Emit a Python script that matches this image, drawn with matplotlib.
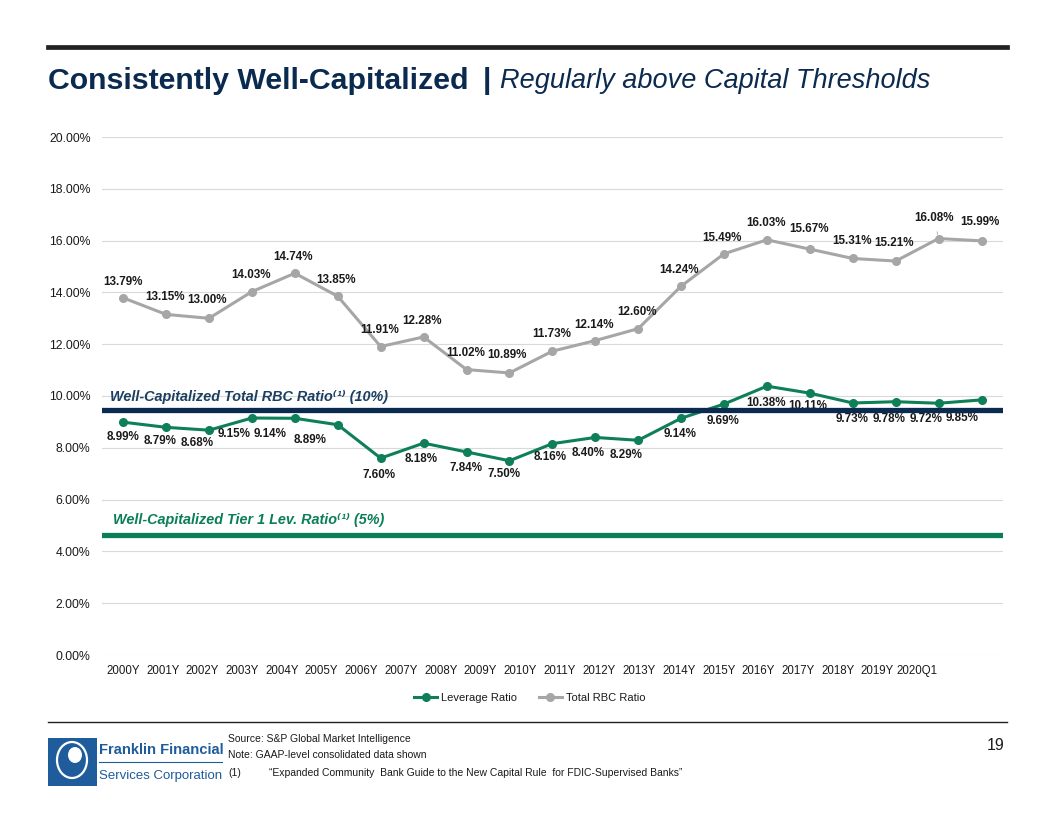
import matplotlib
matplotlib.use("Agg")
import matplotlib.pyplot as plt
from matplotlib.patches import Rectangle, Ellipse
from matplotlib.lines import Line2D

plt.rcParams['font.family'] = ['Liberation Sans', 'DejaVu Sans']

# ---------------- data ----------------
categories = ["2000Y", "2001Y", "2002Y", "2003Y", "2004Y", "2005Y", "2006Y", "2007Y",
              "2008Y", "2009Y", "2010Y", "2011Y", "2012Y", "2013Y", "2014Y", "2015Y",
              "2016Y", "2017Y", "2018Y", "2019Y", "2020Q1"]
leverage_ratio = [8.99, 8.79, 8.68, 9.15, 9.14, 8.89, 7.60, 8.18, 7.84, 7.50, 8.16,
                  8.40, 8.29, 9.14, 9.69, 10.38, 10.11, 9.73, 9.78, 9.72, 9.85]
total_rbc_ratio = [13.79, 13.15, 13.00, 14.03, 14.74, 13.85, 11.91, 12.28, 11.02, 10.89,
                   11.73, 12.14, 12.60, 14.24, 15.49, 16.03, 15.67, 15.31, 15.21, 16.08, 15.99]
yticks = [0, 2, 4, 6, 8, 10, 12, 14, 16, 18, 20]
rbc_threshold_label = "Well-Capitalized Total RBC Ratio\u207d\u00b9\u207e (10%)"
lev_threshold_label = "Well-Capitalized Tier 1 Lev. Ratio\u207d\u00b9\u207e (5%)"

# label offsets in pixels (dx, dy image-down)
rbc_offsets = [(0, -16), (-1, -17), (-2, -18), (-1, -17), (-2, -16.5), (-2, -16), (-1, -16.5),
               (-2, -16), (-1, -17), (-2, -18), (-1, -17), (-1, -16), (-1, -16.7), (-2, -16),
               (-2, -16), (-1, -16.5), (-1, -20), (-1, -17), (-2, -18.5), (-5, -21), (-2, -19)]
lev_offsets = [(0, 14.5), (-6.5, 14), (-12, 13), (-18, 16), (-24.5, 16), (-28, 15), (-2, 16.5),
               (-2, 16), (-1, 15.7), (-5, 13), (-2, 13.6), (-7.6, 16), (-12.5, 14.4), (-1, 16),
               (-1, 16.7), (-1, 16.5), (-2, 13), (-1, 16), (-7, 17), (-13, 16), (-19, 17.8)]

GREEN = "#0E7F57"
GRAY = "#A6A6A6"
NAVY = "#0B2A50"

W, H = 1056, 816
fig = plt.figure(figsize=(W / 100, H / 100), dpi=100)
fig.patch.set_facecolor("white")

def fx(px):
    return px / W

def fy(py):
    return 1 - py / H

ax = fig.add_axes([fx(101.7), fy(655), fx(1003) - fx(101.7), fy(137) - fy(655)])
x = list(range(len(categories)))

ax.plot(x, total_rbc_ratio, color=GRAY, lw=2.2, marker='o', ms=5.5, zorder=3,
        label="Total RBC Ratio")
ax.plot(x, leverage_ratio, color=GREEN, lw=2.2, marker='o', ms=5.5, zorder=3,
        label="Leverage Ratio")

for i, v in enumerate(total_rbc_ratio):
    dx, dy = rbc_offsets[i]
    kw = {}
    if i == 19:
        kw = dict(arrowprops=dict(arrowstyle='-', color=GRAY, lw=0.6, shrinkA=4, shrinkB=3))
    ax.annotate(f"{v:.2f}%", (i, v), xytext=(dx, -dy), textcoords='offset pixels',
                ha='center', va='center', fontsize=8.4, fontweight='bold', color='#1A1A1A',
                zorder=4, **kw)

for i, v in enumerate(leverage_ratio):
    dx, dy = lev_offsets[i]
    ax.annotate(f"{v:.2f}%", (i, v), xytext=(dx, -dy), textcoords='offset pixels',
                ha='center', va='center', fontsize=8.4, fontweight='bold', color='#1A1A1A',
                zorder=4)

# threshold bars (drawn above series)
ax.axhline(9.45, color=NAVY, lw=3.8, zorder=6)
ax.axhline(4.62, color="#0A7F55", lw=3.8, zorder=6)
ax.text(0.009, 9.97, rbc_threshold_label, transform=ax.get_yaxis_transform(),
        ha='left', va='center', fontsize=10.4, fontweight='bold', fontstyle='italic',
        color="#1C3F60", zorder=7)
ax.text(0.012, 5.2, lev_threshold_label, transform=ax.get_yaxis_transform(),
        ha='left', va='center', fontsize=10.4, fontweight='bold', fontstyle='italic',
        color="#0A7F55", zorder=7)

ax.set_xlim(-0.5, len(categories) - 0.5)
ax.set_ylim(0, 20)
ax.set_yticks(yticks)
ax.set_yticklabels([f"{t:.2f}%" for t in yticks], fontsize=8.8, color='#1A1A1A')
ax.set_xticks([i * 0.925 for i in x])
ax.set_xticklabels(categories, fontsize=8.3, color='#1A1A1A')
ax.tick_params(axis='both', length=0)
ax.tick_params(axis='x', pad=7)
ax.tick_params(axis='y', pad=8)
ax.grid(axis='y', color='#D9D9D9', lw=0.8)
ax.set_axisbelow(True)
for s in ax.spines.values():
    s.set_visible(False)

h_l, l_l = ax.get_legend_handles_labels()
leg = fig.legend([h_l[1], h_l[0]], [l_l[1], l_l[0]], loc='center',
                 bbox_to_anchor=(fx(530), fy(698)), ncol=2, frameon=False, fontsize=8,
                 handlelength=2.0, columnspacing=2.0, handletextpad=0.4)
for t in leg.get_texts():
    t.set_color('#1A1A1A')

# ---------------- header ----------------
fig.add_artist(Line2D([fx(48), fx(1007)], [fy(47), fy(47)], color='#222222', lw=3.4))
fig.text(fx(48), fy(81), "Consistently Well-Capitalized", ha='left', va='center',
         fontsize=21.8, fontweight='bold', color=NAVY)
fig.text(fx(487), fy(81), "|", ha='center', va='center',
         fontsize=21.8, fontweight='bold', color=NAVY)
fig.text(fx(500), fy(81), "Regularly above Capital Thresholds", ha='left', va='center',
         fontsize=19.5, fontstyle='italic', color=NAVY)

# ---------------- footer ----------------
fig.add_artist(Line2D([fx(48), fx(1007)], [fy(722), fy(722)], color='#222222', lw=1.0))
FS = 7.5
fig.text(fx(228), fy(739), "Source: S&P Global Market Intelligence", ha='left', va='center',
         fontsize=FS, color='#1A1A1A')
fig.text(fx(228), fy(755), "Note: GAAP-level consolidated data shown", ha='left', va='center',
         fontsize=FS, color='#1A1A1A')
fig.text(fx(228), fy(773), "(1)", ha='left', va='center', fontsize=FS, color='#1A1A1A')
fig.text(fx(269), fy(773),
         "\u201cExpanded Community  Bank Guide to the New Capital Rule  for FDIC-Supervised Banks\u201d",
         ha='left', va='center', fontsize=FS, color='#1A1A1A')
fig.text(fx(1004), fy(746), "19", ha='right', va='center', fontsize=11.5, color='#1A1A1A')

# logo approximation
LOGO = "#1F5C9C"
fig.add_artist(Rectangle((fx(48), fy(786)), fx(97) - fx(48), fy(738) - fy(786),
                         transform=fig.transFigure, facecolor=LOGO, edgecolor='none'))
fig.add_artist(Ellipse((fx(72), fy(760)), fx(30) - fx(0), fy(0) - fy(36),
                       transform=fig.transFigure, facecolor='none', edgecolor='white', lw=1.6))
fig.add_artist(Ellipse((fx(75), fy(755)), fx(14) - fx(0), fy(0) - fy(16),
                       transform=fig.transFigure, facecolor='white', edgecolor='none'))
fig.text(fx(99), fy(750), "Franklin Financial", ha='left', va='center', fontsize=10.6,
         fontweight='bold', color=LOGO)
fig.add_artist(Line2D([fx(99), fx(222)], [fy(762), fy(762)], color=LOGO, lw=0.8))
fig.text(fx(99), fy(776), "Services Corporation", ha='left', va='center', fontsize=9.5,
         color=LOGO)

fig.savefig("out.png", dpi=100, facecolor='white')
